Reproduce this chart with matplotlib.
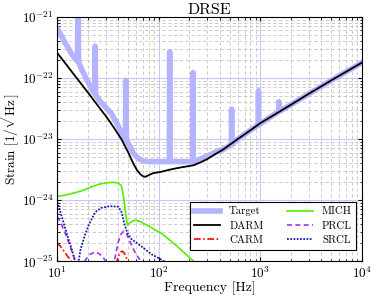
import numpy as np
import matplotlib
matplotlib.use("Agg")
import matplotlib.pyplot as plt
from matplotlib.ticker import NullFormatter

# log10(strain), frequency in Hz
target_f = [10, 12, 14, 15.5, 15.8, 16.0, 16.2, 17.5, 20, 22.8, 23.4, 23.6, 23.8,
            26, 30, 34, 38, 43.4, 47, 47.5, 48, 52, 56, 62, 70, 80, 100, 127, 128,
            129, 160, 200, 217, 218, 219, 240, 300, 370, 433, 520, 522, 524, 600,
            796, 955, 960, 965, 1205, 1520, 1528, 1536, 2000, 3000, 5000, 10000]
target_log = [-21.19, -21.43, -21.62, -21.71, -21.72, -20.6, -21.74, -21.87, -22.06,
              -22.24, -22.25, -21.48, -22.27, -22.37, -22.48, -22.58, -22.72, -22.91,
              -23.00, -22.04, -23.02, -23.12, -23.23, -23.31, -23.36, -23.37, -23.37,
              -23.37, -21.57, -23.37, -23.37, -23.37, -23.37, -21.91, -23.37, -23.35,
              -23.28, -23.21, -23.17, -23.09, -22.51, -23.09, -23.00, -22.86, -22.77,
              -22.21, -22.77, -22.66, -22.55, -22.39, -22.55, -22.44, -22.26, -22.04,
              -21.75]

darm_f = [10, 12, 15, 20.3, 25, 30.9, 37, 43.4, 50, 56, 61, 66, 70, 74, 80, 88, 104,
          130, 160, 220, 260, 300, 350, 433, 600, 796, 1000, 1205, 2000, 3000, 5000,
          10000]
darm_log = [-21.59, -21.76, -21.97, -22.25, -22.45, -22.65, -22.84, -23.02, -23.22,
            -23.40, -23.51, -23.58, -23.61, -23.62, -23.59, -23.56, -23.54, -23.50,
            -23.47, -23.43, -23.38, -23.33, -23.26, -23.17, -23.00, -22.86, -22.74,
            -22.66, -22.44, -22.26, -22.04, -21.75]

carm_f = [10, 11, 12, 13, 14.5, 15.5, 36, 38, 40, 42, 44, 46, 48, 51, 53]
carm_log = [-24.70, -24.78, -24.87, -24.95, -25.05, -25.4, -25.4, -25.05, -24.92,
            -24.85, -24.84, -24.88, -24.95, -25.05, -25.4]

mich_f = [10, 12, 15, 18, 22, 26, 30, 35, 40, 43, 45, 47, 49, 52, 58, 65, 80, 107,
          150, 219, 260]
mich_log = [-23.94, -23.92, -23.88, -23.84, -23.78, -23.74, -23.72, -23.71, -23.72,
            -23.77, -23.95, -24.20, -24.41, -24.37, -24.33, -24.35, -24.43, -24.55,
            -24.75, -25.00, -25.12]

prcl_f = [10, 11, 12, 13, 14, 15, 15.5, 16.5, 18, 19, 21, 23.6, 26, 28.5, 31.9, 33,
          35, 36, 38, 40, 42, 45, 48, 52, 58, 65, 69, 72]
prcl_log = [-24.27, -24.40, -24.55, -24.70, -24.85, -25.00, -25.4, -25.4, -25.05,
            -24.98, -24.89, -24.85, -24.88, -24.95, -25.05, -25.4, -25.4, -25.05,
            -24.85, -24.68, -24.57, -24.51, -24.55, -24.68, -24.85, -24.98, -25.05,
            -25.3]

srcl_f = [10, 11, 12, 13, 14, 15, 15.6, 16.2, 17, 18.5, 20.5, 23.6, 27, 33, 40, 43,
          46, 49, 53, 57, 70, 85, 107, 120]
srcl_log = [-24.03, -24.26, -24.47, -24.66, -24.83, -25.00, -25.5, -25.00, -24.80,
            -24.60, -24.40, -24.20, -24.13, -24.10, -24.11, -24.20, -24.40, -24.54,
            -24.63, -24.67, -24.78, -24.89, -24.98, -25.03]

plt.rcParams["font.family"] = "serif"
plt.rcParams["font.serif"] = ["cmr10"]
plt.rcParams["mathtext.fontset"] = "cm"
plt.rcParams["axes.formatter.use_mathtext"] = True


def main():
    fig = plt.figure(figsize=(3.82, 2.97), dpi=100)
    ax = fig.add_axes([0.150, 0.121, 0.797, 0.822])

    ax.loglog(target_f, 10 ** np.array(target_log), color="#b3b3ff", lw=4.0,
              label="Target")
    ax.loglog(darm_f, 10 ** np.array(darm_log), color="black", lw=1.3,
              label="DARM")
    ax.loglog(carm_f, 10 ** np.array(carm_log), color="red", lw=1.2,
              ls=(0, (4, 1.5, 1, 1.5)), label="CARM")
    ax.loglog(mich_f, 10 ** np.array(mich_log), color="#55ee00", lw=1.2,
              label="MICH")
    ax.loglog(prcl_f, 10 ** np.array(prcl_log), color="#a030ff", lw=1.2,
              ls=(0, (3, 2)), label="PRCL")
    ax.loglog(srcl_f, 10 ** np.array(srcl_log), color="#1a1aa8", lw=1.3,
              ls=(0, (1, 0.8)), label="SRCL")

    ax.set_xlim(10, 1e4)
    ax.set_ylim(1e-25, 1e-21)
    ax.xaxis.set_minor_formatter(NullFormatter())
    ax.yaxis.set_minor_formatter(NullFormatter())

    ax.grid(which="minor", ls=(0, (4, 3)), color="#c4c4c4", lw=0.6)
    ax.grid(which="major", ls="-", color="#c8c8ff", lw=0.8)
    ax.set_axisbelow(True)

    ax.tick_params(which="both", direction="in", top=True, right=True,
                   labelsize=9.5)
    ax.tick_params(which="major", length=3)
    ax.tick_params(which="minor", length=1.8)
    ax.tick_params(axis="y", which="major", pad=2.5)
    ax.tick_params(axis="x", which="major", pad=3.5)

    ax.set_title("DRSE", fontsize=11.5, pad=2)
    ax.set_xlabel("Frequency [Hz]", fontsize=10, labelpad=0)
    ax.set_ylabel(r"Strain $[1/\sqrt{\mathrm{Hz}}]$", fontsize=9.5, labelpad=0)

    leg = ax.legend(loc="lower right", bbox_to_anchor=(1.0, 0.025), ncol=2,
                    fontsize=7.8, frameon=True, fancybox=False,
                    edgecolor="black", framealpha=1, handlelength=2.4,
                    columnspacing=2.2, labelspacing=0.45, borderpad=0.4)
    leg.get_frame().set_linewidth(0.8)

    fig.savefig("out.png", dpi=100)
    plt.close(fig)


if __name__ == "__main__":
    main()
